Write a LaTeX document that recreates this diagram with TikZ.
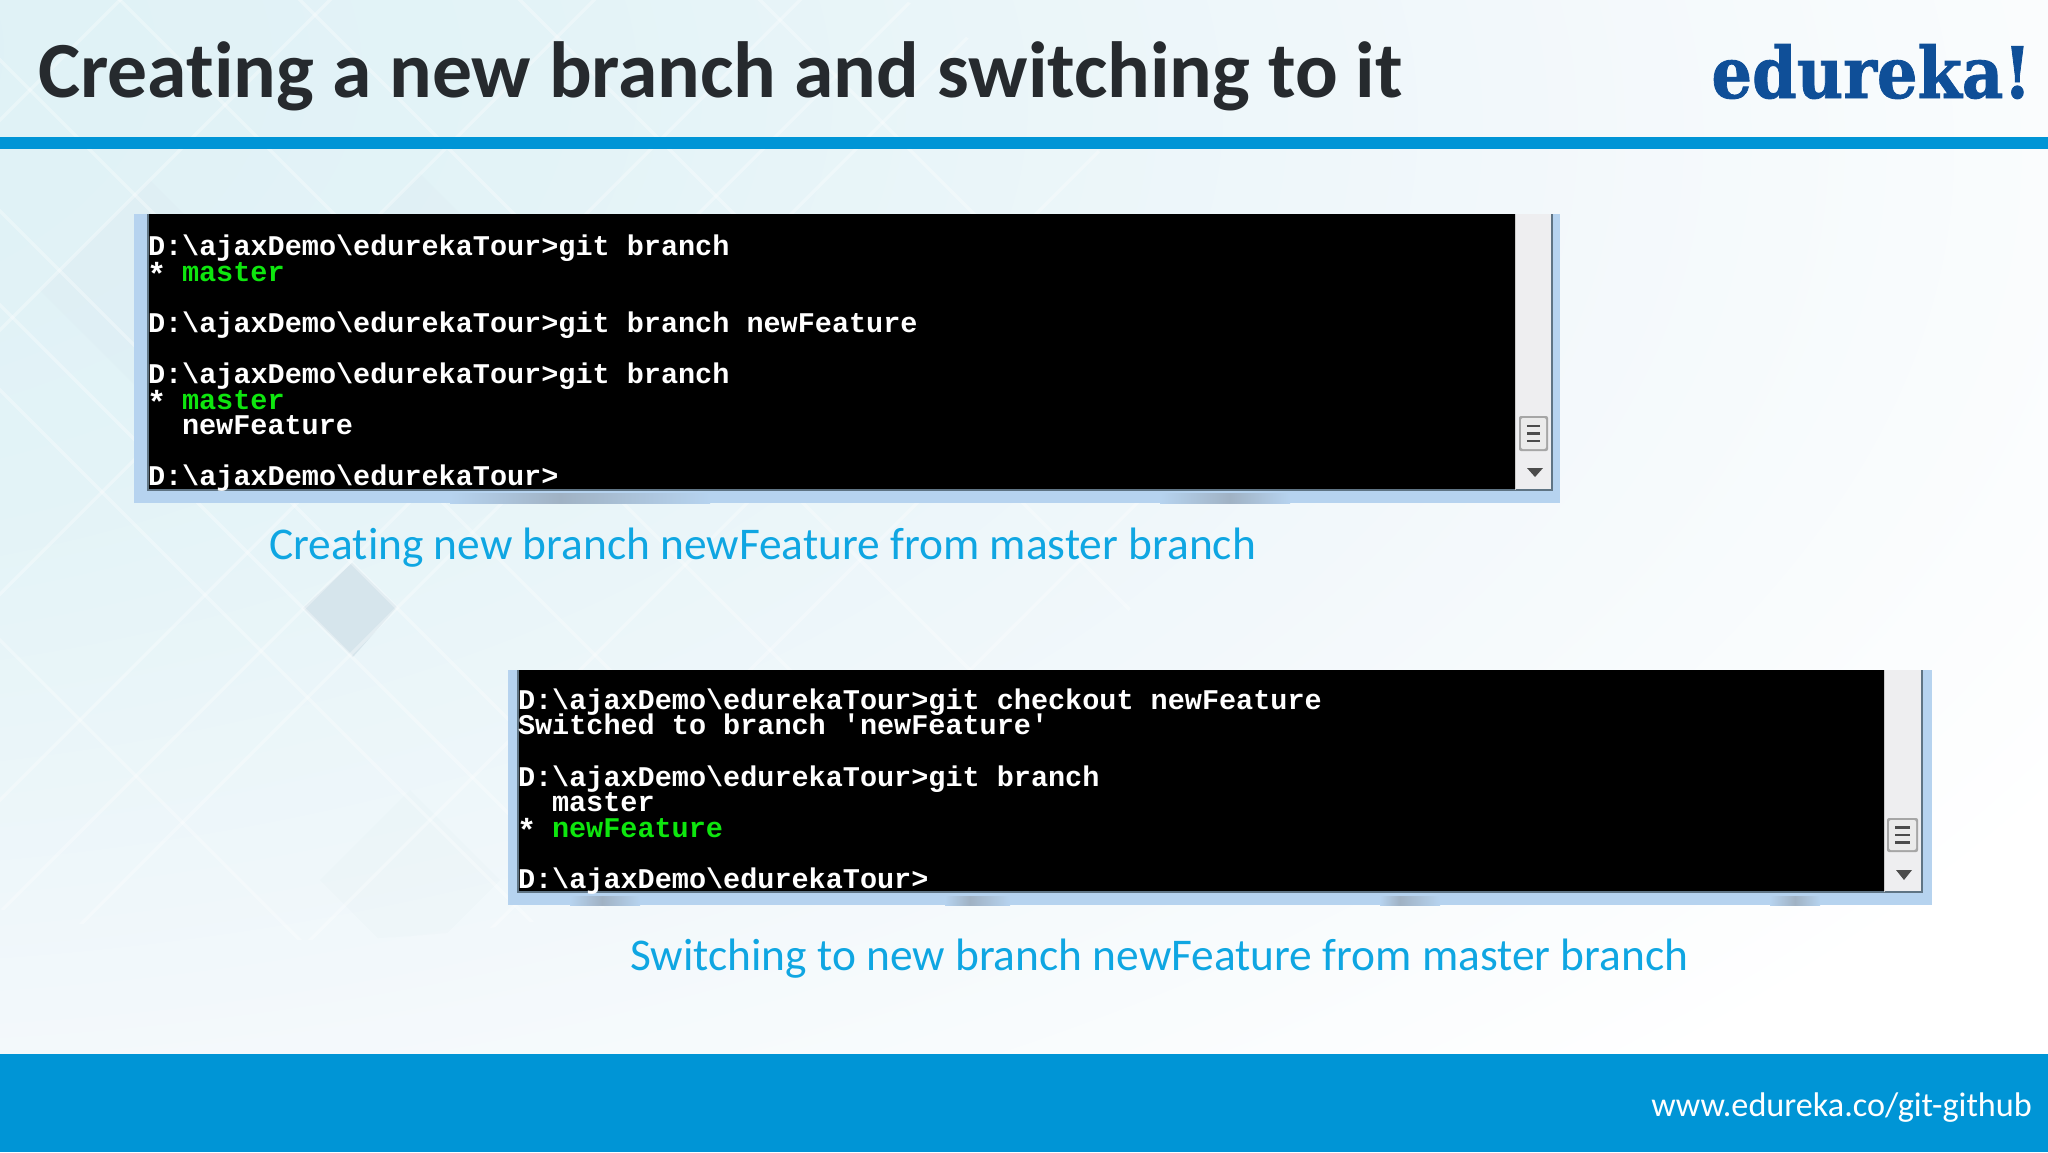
\documentclass[tikz,border=0pt]{standalone}
\usepackage{graphicx}
\usepackage{fontspec}
\setmainfont{Carlito}[Ligatures=NoCommon]
\newfontfamily\termfont{Liberation Mono}
\newfontfamily\logofont{DejaVu Serif}[BoldFont={DejaVu Serif Bold},BoldFeatures={FakeBold=1.2}]
\definecolor{barblue}{HTML}{0095D6}
\definecolor{capblue}{HTML}{0FA6E2}
\definecolor{titlegrey}{HTML}{262A2E}
\definecolor{logoblue}{HTML}{0F4F98}
\definecolor{frameblue}{HTML}{B6D3EF}
\definecolor{trackgrey}{HTML}{EEEEF0}
\definecolor{termgreen}{HTML}{0EE60E}
\definecolor{edgeslate}{HTML}{5F7484}
\definecolor{smudge}{HTML}{A0B2C4}
\definecolor{washa}{HTML}{DCF0F5}
\definecolor{washb}{HTML}{E3F3F7}
\definecolor{washc}{HTML}{F2F8FB}
\definecolor{tileblue}{HTML}{D6E5EC}
\pgfdeclareradialshading{wash}{\pgfpoint{-38bp}{24bp}}{%
  color(0bp)=(washa);color(22bp)=(washb);color(42bp)=(washc);color(60bp)=(white);color(200bp)=(white)}
\tikzset{
  term/.style={anchor=base west,inner sep=0,outer sep=0,text=white,font=\termfont\bfseries\fontsize{14.25}{16}\selectfont},
  termg/.style={term,text=termgreen},
  termstar/.style={term,font=\termfont\bfseries\fontsize{16}{18}\selectfont},
  captiontext/.style={anchor=base west,inner sep=0,text=capblue,font=\fontsize{22.7}{27}\selectfont},
  facet/.style={white,line width=1.6pt,opacity=.32},
  grip/.style={black!70,line width=1.1pt},
}
% frame left, black left, black right, track right, frame right, top, black bottom, frame bottom
\newcommand{\consolewin}[8]{%
  \fill[frameblue] (#1,#6) rectangle (#5,#8);
  \fill[black] (#2,#6) rectangle (#3,#7);
  \fill[trackgrey] (#3,#6) rectangle (#4,#7);
  \draw[edgeslate,line width=.7pt] (#2,#6) -- (#2,#7) -- (#4,#7) -- (#4,#6);
  \draw[white!80!black,line width=.5pt] (#3,#6) -- (#3,#7);
}
% thumb left, top, right, bottom
\newcommand{\consolethumb}[4]{%
  \fill[black!35,rounded corners=1pt] (#1,#2) rectangle (#3,#4);
  \fill[white!92!black,rounded corners=1pt] (#1+2,#2+2) rectangle (#3-2,#4-2);
  \foreach \k in {.28,.5,.72}
    \draw[grip] ({#1+.27*(#3-#1)},{#2+\k*(#4-#2)}) -- ({#1+.73*(#3-#1)},{#2+\k*(#4-#2)});
}
\begin{document}
\begin{tikzpicture}[x=0.5pt,y=-0.5pt]
\useasboundingbox (0,0) rectangle (2048,1152);
\shade[shading=wash] (0,0) rectangle (2048,1054);
% background lattice
\begin{scope}
  \clip (300,400) ellipse [x radius=900,y radius=540];
  \fill[tileblue] (352,563) -- (397,607) -- (353,657) -- (303,608) -- cycle;
  \fill[tileblue,opacity=.18] (150,180) -- (260,290) -- (150,400) -- (40,290) -- cycle;
  \fill[tileblue,opacity=.15] (420,174) -- (560,314) -- (420,454) -- (280,314) -- cycle;
  \fill[tileblue,opacity=.10] (410,790) -- (500,880) -- (410,970) -- (320,880) -- cycle;
  \foreach \c in {-640,-390,-305,-211,-60,120,300,520,760}
    \draw[facet] (-100,{-100-\c}) -- (1500,{1500-\c});
  \foreach \c in {120,330,594,800,912,1005,1250,1420,1640}
    \draw[facet] (-100,{\c+100}) -- (1500,{\c-1500});
\end{scope}
% header and footer
\fill[barblue] (0,137) rectangle (2048,149);
\fill[barblue] (0,1054) rectangle (2048,1152);
\node[anchor=base west,inner sep=0,text=titlegrey,font=\bfseries\fontsize{39.8}{48}\selectfont] (title) at (38,97) {Creating a new branch and switching to it};
\node[anchor=base west,inner sep=0,text=logoblue] (logo) at (1711,98) {\resizebox{160pt}{27pt}{\logofont\bfseries edureka!}};
\node[anchor=base west,inner sep=0,text=white,font=\fontsize{17.1}{20}\selectfont] (url) at (1651,1116) {www.edureka.co/git-github};
% first console
\consolewin{134}{148}{1515}{1552}{1560}{214}{490}{503}
\shade[left color=frameblue,right color=smudge] (450,493) rectangle (560,503);
\shade[left color=smudge,right color=frameblue] (560,493) rectangle (710,503);
\shade[left color=frameblue,right color=smudge] (1160,493) rectangle (1230,503);
\shade[left color=smudge,right color=frameblue] (1230,493) rectangle (1290,503);
\consolethumb{1519}{416}{1548}{451}
\fill[black!70] (1527,468) -- (1543,468) -- (1535,477) -- cycle;
\node[term] (a1) at (148,255) {D:\textbackslash ajaxDemo\textbackslash edurekaTour>git branch};
\node[termstar] (a2) at (147,285) {*};
\node[termg] (a2g) at (182,281) {master};
\node[term] (a3) at (148,332) {D:\textbackslash ajaxDemo\textbackslash edurekaTour>git branch newFeature};
\node[term] (a4) at (148,383) {D:\textbackslash ajaxDemo\textbackslash edurekaTour>git branch};
\node[termstar] (a5) at (147,413) {*};
\node[termg] (a5g) at (182,409) {master};
\node[term] (a6) at (182,434) {newFeature};
\node[term] (a7) at (148,485) {D:\textbackslash ajaxDemo\textbackslash edurekaTour>};
\node[captiontext] (cap1) at (269,559) {Creating new branch newFeature from master branch};
% second console
\consolewin{508}{518}{1884}{1922}{1932}{670}{892}{905}
\shade[left color=frameblue,right color=smudge] (570,896) rectangle (602,905);
\shade[left color=smudge,right color=frameblue] (602,896) rectangle (640,905);
\shade[left color=frameblue,right color=smudge] (945,896) rectangle (970,905);
\shade[left color=smudge,right color=frameblue] (970,896) rectangle (1010,905);
\shade[left color=frameblue,right color=smudge] (1380,896) rectangle (1400,905);
\shade[left color=smudge,right color=frameblue] (1400,896) rectangle (1440,905);
\shade[left color=frameblue,right color=smudge] (1770,896) rectangle (1795,905);
\shade[left color=smudge,right color=frameblue] (1795,896) rectangle (1820,905);
\consolethumb{1887}{818}{1918}{852}
\fill[black!70] (1896,870) -- (1912,870) -- (1904,880) -- cycle;
\node[term] (b1) at (518,709) {D:\textbackslash ajaxDemo\textbackslash edurekaTour>git checkout newFeature};
\node[term] (b2) at (518,734) {Switched to branch 'newFeature'};
\node[term] (b3) at (518,786) {D:\textbackslash ajaxDemo\textbackslash edurekaTour>git branch};
\node[term] (b4) at (552,811) {master};
\node[termstar] (b5) at (517,841) {*};
\node[termg] (b5g) at (552,837) {newFeature};
\node[term] (b6) at (518,888) {D:\textbackslash ajaxDemo\textbackslash edurekaTour>};
\node[captiontext] (cap2) at (630,970) {Switching to new branch newFeature from master branch};
\end{tikzpicture}
\end{document}
